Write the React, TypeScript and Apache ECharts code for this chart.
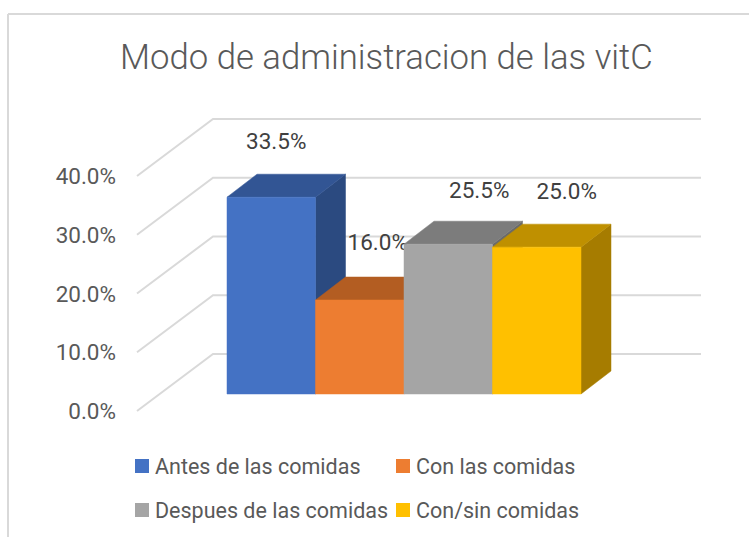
import React, { useEffect, useRef } from "react";
import * as echarts from "echarts";

const titleText = "Modo de administracion de las vitC";
const categories = ["Antes de las comidas", "Con las comidas", "Despues de las comidas", "Con/sin comidas"];
const values = [33.5, 16.0, 25.5, 25.0];
const ticks = [0, 10, 20, 30, 40];

const faceColors = ["#4472C4", "#ED7D31", "#A5A5A5", "#FFC000"];
const topColors = ["#325594", "#B35D22", "#7C7C7C", "#BF9000"];
const sideColors = ["#2B4A80", "#9A4F1C", "#6A6A6A", "#A67C00"];
const labelShift = [[5, -56], [18, -58], [31, -54], [30, -56]];

const FONT = 'Roboto, "Liberation Sans", sans-serif';
const BAR_LIFT = 17, BAR_DX = 30, BAR_DY = 23;
const WALL_LEFT = 137, WALL_MID = 213, WALL_RIGHT = 701, WALL_DY = 57;

export default function App() {
  const ref = useRef<HTMLDivElement>(null);
  useEffect(() => {
    const chart = echarts.init(ref.current!, undefined, { renderer: "svg" });
    const barSeries = categories.map((name, i) => ({
      type: "custom",
      name,
      z: 3 + i,
      itemStyle: { color: faceColors[i] },
      encode: { x: 0, y: 1 },
      data: [[i, values[i]]],
      clip: false,
      renderItem: (_p: any, api: any) => {
        const top = api.coord([api.value(0), api.value(1)]);
        const base = api.coord([api.value(0), 0]);
        const w = api.size([1, 0])[0];
        const x0 = top[0] - w / 2, x1 = top[0] + w / 2;
        const yT = top[1] - BAR_LIFT, yB = base[1] - BAR_LIFT;
        const poly = (points: number[][], fill: string) => ({
          type: "polygon",
          shape: { points },
          style: { fill, stroke: fill, lineWidth: 0.5 },
        });
        return {
          type: "group",
          children: [
            poly([[x1, yT], [x1 + BAR_DX, yT - BAR_DY], [x1 + BAR_DX, yB - BAR_DY], [x1, yB]], sideColors[i]),
            poly([[x0, yT], [x0 + BAR_DX, yT - BAR_DY], [x1 + BAR_DX, yT - BAR_DY], [x1, yT]], topColors[i]),
            poly([[x0, yT], [x1, yT], [x1, yB], [x0, yB]], faceColors[i]),
            {
              type: "text",
              x: top[0] + labelShift[i][0],
              y: yT + labelShift[i][1],
              style: {
                text: values[i].toFixed(1) + "%",
                font: `400 22.5px ${FONT}`,
                fill: "#404040",
                align: "center",
                verticalAlign: "middle",
              },
            },
          ],
        };
      },
    }));
    chart.setOption({
      animation: false,
      backgroundColor: "#ffffff",
      title: {
        text: titleText,
        left: 120,
        top: 39,
        padding: 0,
        textStyle: { fontFamily: FONT, fontSize: 34.7, fontWeight: 300, color: "#595959" },
      },
      grid: { left: 227, right: 168, top: 176, bottom: 126 },
      xAxis: { type: "category", data: categories, show: false },
      yAxis: {
        type: "value",
        min: 0,
        max: 40,
        interval: 10,
        axisLine: { show: false },
        axisTick: { show: false },
        splitLine: { show: false },
        axisLabel: {
          formatter: (v: number) => v.toFixed(1) + "%",
          margin: 111,
          fontFamily: FONT,
          fontWeight: 400,
          fontSize: 22.5,
          color: "#595959",
          padding: [0, 0, 4, 0],
        },
      },
      legend: [
        { data: [categories[0], categories[2]], left: 135, top: 455, orient: "vertical" },
        { data: [categories[1], categories[3]], left: 396, top: 455, orient: "vertical" },
      ].map((l) => ({
        ...l,
        icon: "rect",
        itemWidth: 14,
        itemHeight: 14,
        itemGap: 22,
        padding: 0,
        textStyle: { fontFamily: FONT, fontWeight: 400, fontSize: 21.5, color: "#595959", padding: [0, 0, 0, 1] },
      })),
      graphic: [
        { type: "line", shape: { x1: 8, y1: 14, x2: 749, y2: 14 }, style: { stroke: "#D9D9D9", lineWidth: 2 } },
        { type: "line", shape: { x1: 8, y1: 14, x2: 8, y2: 537 }, style: { stroke: "#D9D9D9", lineWidth: 2 } },
      ],
      series: [
        {
          type: "custom",
          name: "grid",
          z: 1,
          silent: true,
          clip: false,
          encode: { y: 0 },
          data: ticks.map((t) => [t]),
          renderItem: (_p: any, api: any) => {
            const y = api.coord([0, api.value(0)])[1];
            return {
              type: "polyline",
              shape: { points: [[WALL_LEFT, y], [WALL_MID, y - WALL_DY], [WALL_RIGHT, y - WALL_DY]] },
              style: { stroke: "#D9D9D9", lineWidth: 2, fill: "none" },
            };
          },
        },
        ...barSeries,
      ],
    });
    return () => chart.dispose();
  }, []);
  return <div ref={ref} style={{ position: "absolute", left: 0, top: 0, width: 749, height: 537 }} />;
}
